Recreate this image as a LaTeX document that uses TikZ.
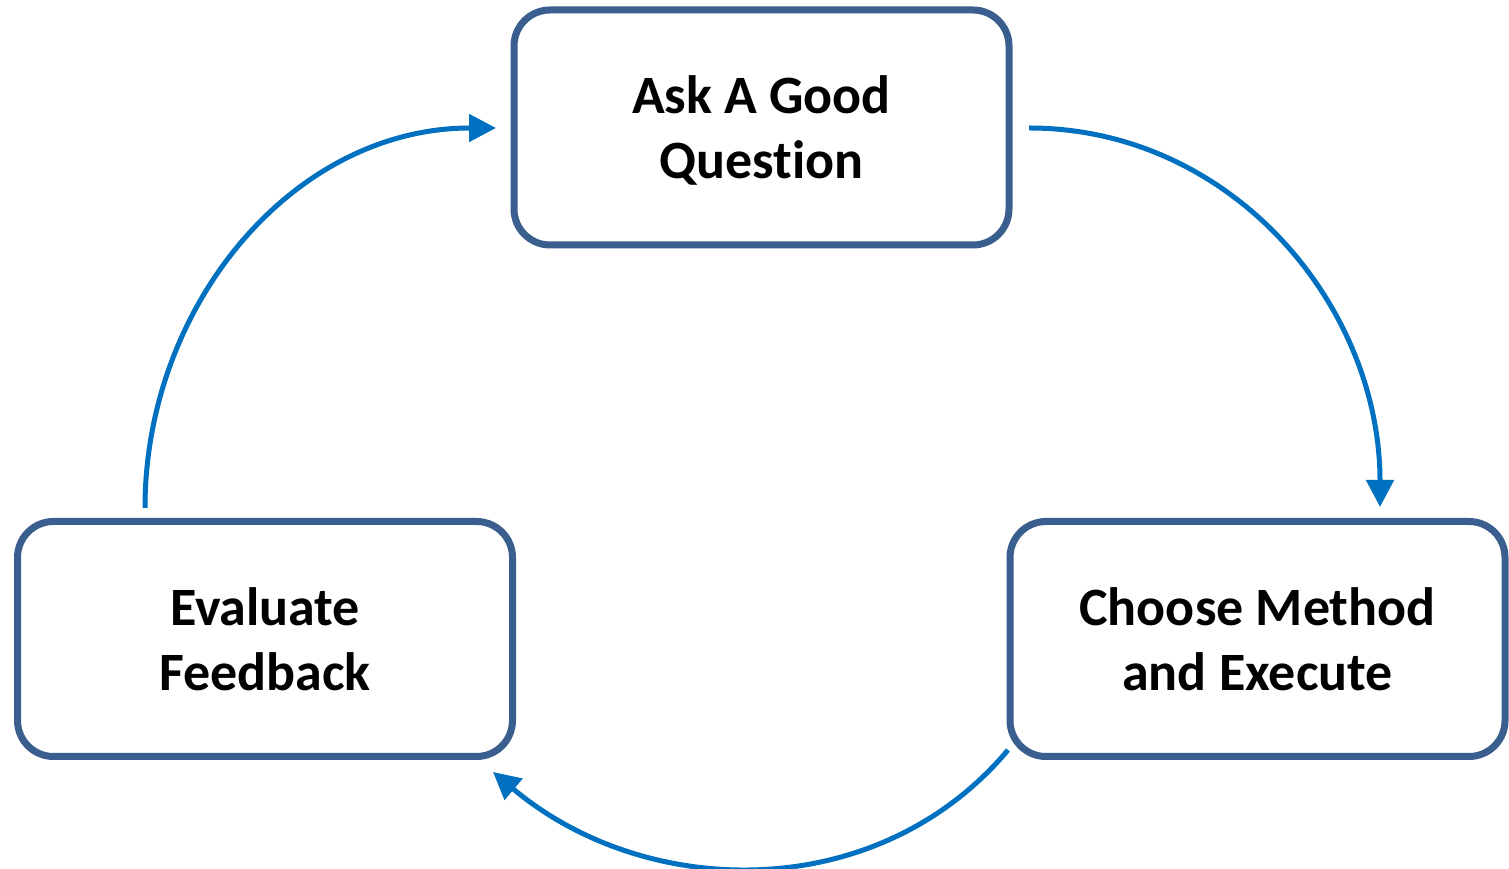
\documentclass[tikz,border=0pt]{standalone}
\usepackage{fontspec}
\setmainfont{Carlito}[RawFeature={-liga;-clig;-calt;-dlig}]
\usetikzlibrary{arrows.meta}

\definecolor{boxline}{HTML}{3A5E8E}
\definecolor{flowblue}{HTML}{0070C0}

\begin{document}
\begin{tikzpicture}[x=1pt, y=1pt,
    stage/.style={draw=boxline, line width=7pt, rounded corners=36pt, fill=white,
        minimum width=495pt, minimum height=235pt, align=center, text depth=0pt,
        font=\fontsize{54}{65}\selectfont\bfseries},
    flow/.style={draw=flowblue, line width=5pt, -{Triangle[length=27pt,width=27pt]}}]
    \useasboundingbox (0,0) rectangle (1509,869);
    % the three steps
    \node[stage] (ask)      at (761.5,741.5) {Ask A Good\\Question};
    \node[stage] (choose)   at (1257.5,230)  {Choose Method\\and Execute};
    \node[stage] (evaluate) at (265,230)     {Evaluate\\Feedback};
    % loose ends of the arrows
    \coordinate (askout)   at (1029,741);
    \coordinate (choosein) at (1380,362);
    \coordinate (chooseout) at (1008,119);
    \coordinate (evalin)   at (493,97);
    \coordinate (evalout)  at (145,361);
    \coordinate (askin)    at (496,741);
    % the cycle
    \draw[flow] (askout) to[out=0, in=90] (choosein);
    \draw[flow] (chooseout) to[out=-130, in=-40] (evalin);
    \draw[flow] (evalout) to[out=90, in=180] (askin);
\end{tikzpicture}
\end{document}
